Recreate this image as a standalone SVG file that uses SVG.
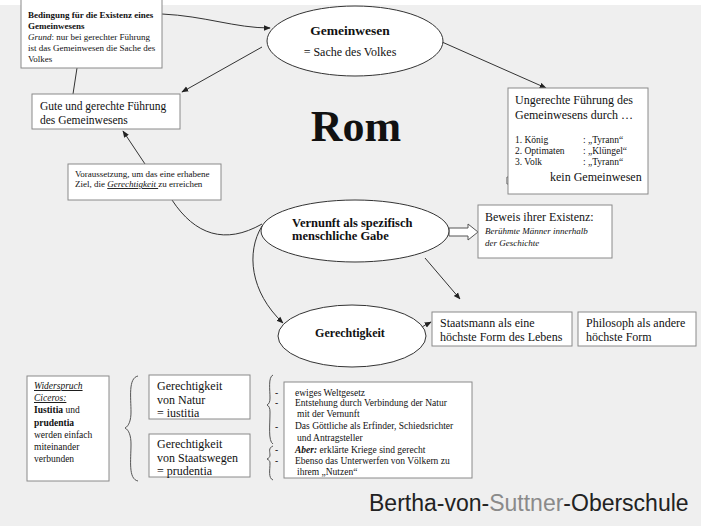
<svg xmlns="http://www.w3.org/2000/svg" width="701" height="526" viewBox="0 0 701 526">
<defs>
<marker id="ah" viewBox="0 0 10 10" refX="9" refY="5" markerWidth="7" markerHeight="7" orient="auto" markerUnits="userSpaceOnUse">
<path d="M0,1 L10,5 L0,9 Z" fill="#222"/>
</marker>
<style>
.bg{fill:#efefef}
.box{fill:#fff;stroke:#8a8a8a;stroke-width:1}
.ell{fill:#fff;stroke:#333;stroke-width:1}
.ln{fill:none;stroke:#333;stroke-width:1}
.t{fill:#111}
.s9{font-size:9.5px}
.s12{font-size:12px}
.b{font-weight:bold}
.i{font-style:italic}
.u{text-decoration:underline}
.blk{fill:#fff;stroke:#555;stroke-width:1}
.br{fill:none;stroke:#555;stroke-width:1}
</style>
</defs>
<rect class="bg" x="0" y="0" width="701" height="526"/>
<rect x="0" y="0" width="701" height="5" fill="#fff"/>

<g id="connectors">
<path class="ln" d="M162,14 C205,16 235,28 270,28" marker-end="url(#ah)"/>
<path class="ln" d="M442,42 L546,88" marker-end="url(#ah)"/>
<path class="ln" d="M262,47 L182,92" marker-end="url(#ah)"/>
<path class="ln" d="M77,68 L73,94"/>
<path class="ln" d="M145,164 L123,131" marker-end="url(#ah)"/>
<path class="ln" d="M172,200 C195,235 225,245 262,224"/>
<path class="ln" d="M262,226 C246,252 250,292 283,323" marker-end="url(#ah)"/>
<path class="ln" d="M425,258 L460,299" marker-end="url(#ah)"/>
<path class="ln" d="M420,328 L431,322" marker-end="url(#ah)"/>
<path class="blk" d="M449,228 L468,228 L468,224 L478,232 L468,240 L468,236 L449,236 Z"/>
<path class="blk" d="M507,177 L533,177 L533,174 L543,180.5 L533,187 L533,184 L507,184 Z"/>
</g>

<g id="bedingung">
<rect class="box" x="21" y="-2" width="141" height="70"/>
<text font-family="Liberation Serif" class="t b" font-size="9" x="28" y="18">Bedingung für die Existenz eines</text>
<text font-family="Liberation Serif" class="t b" font-size="9" x="28" y="29">Gemeinwesens</text>
<text font-family="Liberation Serif" class="t" font-size="9" x="28" y="40"><tspan class="i">Grund</tspan>: nur bei gerechter Führung</text>
<text font-family="Liberation Serif" class="t" font-size="9" x="28" y="51">ist das Gemeinwesen die Sache des</text>
<text font-family="Liberation Serif" class="t" font-size="9" x="28" y="62">Volkes</text>
</g>

<g id="gemeinwesen">
<ellipse class="ell" cx="355" cy="41" rx="88" ry="35"/>
<text font-family="Liberation Serif" class="t b" x="350" y="35" font-size="13.5" text-anchor="middle">Gemeinwesen</text>
<text font-family="Liberation Serif" class="t s12" x="350" y="56" text-anchor="middle">= Sache des Volkes</text>
</g>

<g id="gute">
<rect class="box" x="32" y="94" width="148" height="35"/>
<text font-family="Liberation Serif" class="t" font-size="11.5" x="40" y="110">Gute und gerechte Führung</text>
<text font-family="Liberation Serif" class="t" font-size="11.5" x="40" y="124">des Gemeinwesens</text>
</g>

<g id="ungerechte">
<rect class="box" x="508" y="88" width="140" height="106"/>
<text font-family="Liberation Serif" class="t s12" x="515" y="104">Ungerechte Führung des</text>
<text font-family="Liberation Serif" class="t s12" x="515" y="119">Gemeinwesens durch …</text>
<text font-family="Liberation Serif" class="t s9" x="515" y="143">1. König</text>
<text font-family="Liberation Serif" class="t s9" x="583" y="143">: „Tyrann“</text>
<text font-family="Liberation Serif" class="t s9" x="515" y="154">2. Optimaten</text>
<text font-family="Liberation Serif" class="t s9" x="583" y="154">: „Klüngel“</text>
<text font-family="Liberation Serif" class="t s9" x="515" y="165">3. Volk</text>
<text font-family="Liberation Serif" class="t s9" x="583" y="165">: „Tyrann“</text>
<text font-family="Liberation Serif" class="t s12" x="550" y="181">kein Gemeinwesen</text>
</g>

<g id="rom">
<text font-family="Liberation Serif" class="t b" x="356" y="141" font-size="44" text-anchor="middle">Rom</text>
</g>

<g id="voraussetzung">
<rect class="box" x="68" y="164" width="153" height="36"/>
<text font-family="Liberation Serif" class="t" x="75" y="177" font-size="9">Voraussetzung, um das eine erhabene</text>
<text font-family="Liberation Serif" class="t" x="75" y="187" font-size="9">Ziel, die <tspan class="i u">Gerechtigkeit </tspan>zu erreichen</text>
</g>

<g id="vernunft">
<ellipse class="ell" cx="355" cy="231" rx="94" ry="31"/>
<text font-family="Liberation Serif" class="t b" x="292" y="227" font-size="12.5">Vernunft als spezifisch</text>
<text font-family="Liberation Serif" class="t b" x="292" y="240" font-size="12.5">menschliche Gabe</text>
</g>

<g id="beweis">
<rect class="box" x="478" y="205" width="134" height="53"/>
<text font-family="Liberation Serif" class="t s12" x="485" y="221">Beweis ihrer Existenz:</text>
<text font-family="Liberation Serif" class="t i" x="485" y="234" font-size="9">Berühmte Männer innerhalb</text>
<text font-family="Liberation Serif" class="t i" x="485" y="246" font-size="9">der Geschichte</text>
</g>

<g id="gerechtigkeit">
<ellipse class="ell" cx="352" cy="336" rx="74" ry="31"/>
<text font-family="Liberation Serif" class="t b" x="350" y="337" font-size="12" text-anchor="middle">Gerechtigkeit</text>
</g>

<g id="staatsmann">
<rect class="box" x="432" y="312" width="140" height="34"/>
<text font-family="Liberation Serif" class="t s12" x="440" y="327">Staatsmann als eine</text>
<text font-family="Liberation Serif" class="t s12" x="440" y="341">höchste Form des Lebens</text>
</g>

<g id="philosoph">
<rect class="box" x="578" y="312" width="118" height="34"/>
<text font-family="Liberation Serif" class="t s12" x="586" y="327">Philosoph als andere</text>
<text font-family="Liberation Serif" class="t s12" x="586" y="341">höchste Form</text>
</g>

<g id="widerspruch">
<rect class="box" x="27" y="376" width="82" height="105"/>
<text font-family="Liberation Serif" class="t s9 i u" x="34" y="389">Widerspruch</text>
<text font-family="Liberation Serif" class="t s9 i u" x="34" y="401">Ciceros:</text>
<text font-family="Liberation Serif" class="t s9" x="34" y="413"><tspan class="b">Iustitia</tspan> und</text>
<text font-family="Liberation Serif" class="t s9 b" x="34" y="426">prudentia</text>
<text font-family="Liberation Serif" class="t s9" x="34" y="438">werden  einfach</text>
<text font-family="Liberation Serif" class="t s9" x="34" y="450">miteinander</text>
<text font-family="Liberation Serif" class="t s9" x="34" y="462">verbunden</text>
</g>

<g id="klammer1">
<path class="br" d="M138,376 C128,378 131,398 131,412 C131,420 129,426 125,428 C129,430 131,436 131,444 C131,460 128,479 138,481"/>
</g>

<g id="natur">
<rect class="box" x="149" y="375" width="101" height="44"/>
<text font-family="Liberation Serif" class="t s12" x="157" y="390">Gerechtigkeit</text>
<text font-family="Liberation Serif" class="t s12" x="157" y="404">von Natur</text>
<text font-family="Liberation Serif" class="t s12" x="157" y="417">= iustitia</text>
</g>

<g id="staatswegen">
<rect class="box" x="149" y="434" width="101" height="43"/>
<text font-family="Liberation Serif" class="t s12" x="157" y="448">Gerechtigkeit</text>
<text font-family="Liberation Serif" class="t s12" x="157" y="462">von Staatswegen</text>
<text font-family="Liberation Serif" class="t s12" x="157" y="475">= prudentia</text>
</g>

<g id="klammer2">
<path class="br" d="M273,375 C268,377 270,390 270,398 C270,402 269,404 267,405 C269,406 270,408 270,412 C270,425 268,441 273,444"/>
<path class="br" d="M273,446 C268,448 270,452 270,455 C270,457 269,458 267,459 C269,460 270,461 270,463 C270,470 268,478 273,480"/>
<text font-family="Liberation Serif" class="t s9" x="275" y="396">-</text>
<text font-family="Liberation Serif" class="t s9" x="275" y="406">-</text>
<text font-family="Liberation Serif" class="t s9" x="275" y="430">-</text>
<text font-family="Liberation Serif" class="t s9" x="275" y="453">-</text>
<text font-family="Liberation Serif" class="t s9" x="275" y="464">-</text>
</g>

<g id="weltgesetz">
<rect class="box" x="284" y="382" width="188" height="96"/>
<text font-family="Liberation Serif" class="t s9" x="295" y="396">ewiges Weltgesetz</text>
<text font-family="Liberation Serif" class="t s9" x="295" y="406">Entstehung durch Verbindung der Natur</text>
<text font-family="Liberation Serif" class="t s9" x="297" y="417">mit der Vernunft</text>
<text font-family="Liberation Serif" class="t s9" x="295" y="429">Das Göttliche als Erfinder, Schiedsrichter</text>
<text font-family="Liberation Serif" class="t s9" x="297" y="441">und Antragsteller</text>
<text font-family="Liberation Serif" class="t s9" x="295" y="453"><tspan class="b i">Aber:</tspan> erklärte Kriege sind gerecht</text>
<text font-family="Liberation Serif" class="t s9" x="295" y="464">Ebenso das Unterwerfen von Völkern zu</text>
<text font-family="Liberation Serif" class="t s9" x="297" y="475">ihrem „Nutzen“</text>
</g>

<g id="footer">
<text x="369" y="511" font-family="Liberation Sans" font-size="23" fill="#222">Bertha-von-<tspan fill="#8a8a8a">Suttner</tspan>-Oberschule</text>
</g>
</svg>
